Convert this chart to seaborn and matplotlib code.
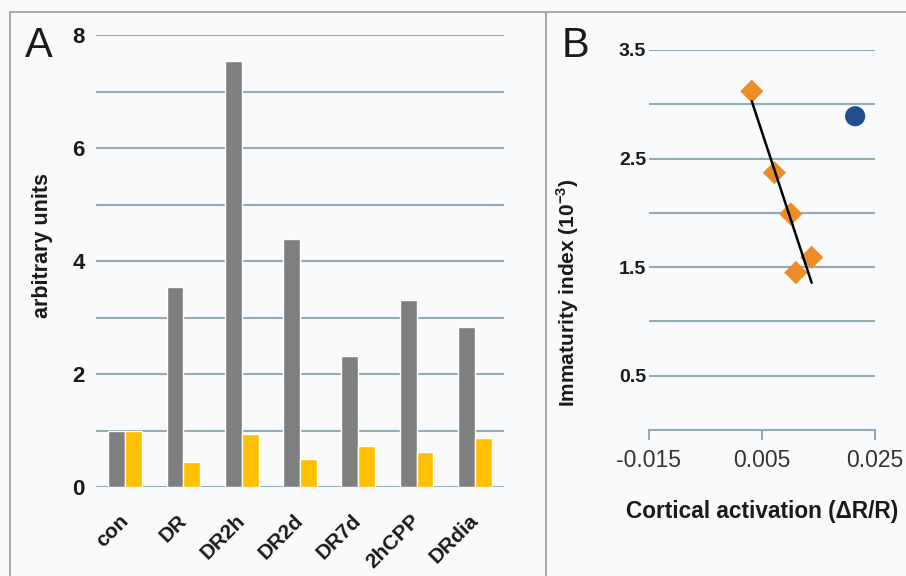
import numpy as np
import pandas as pd
import seaborn as sns
import matplotlib.pyplot as plt
from matplotlib.lines import Line2D

# Panel A data (bar values)
groups = ['con', 'DR', 'DR2h', 'DR2d', 'DR7d', '2hCPP', 'DRdia']
gray_vals = [1.0, 3.54, 7.54, 4.39, 2.32, 3.31, 2.84]
yellow_vals = [1.0, 0.44, 0.94, 0.50, 0.73, 0.62, 0.87]

# Panel B data
act_x = [0.0032, 0.0072, 0.0101, 0.0138, 0.0110]
imm_y = [3.12, 2.37, 1.99, 1.59, 1.45]
out_x = [0.0215]
out_y = [2.89]

sns.set_theme(style='white')
plt.rcParams['font.family'] = ['Liberation Sans', 'DejaVu Sans']

bg = '#f9fafb'
grid_c = '#93aab8'
txt_c = '#1a1a1a'

fig = plt.figure(figsize=(9.06, 5.76), dpi=100, facecolor=bg)

# frame lines around panels
for xs, ys in [([0.011, 0.011], [0.0, 0.979]), ([0.011, 1.0], [0.979, 0.979]),
               ([0.6026, 0.6026], [0.0, 0.979])]:
    fig.add_artist(Line2D(xs, ys, color='#a0a0a0', lw=1.3, transform=fig.transFigure))

# ---- Panel A ----
axA = fig.add_axes([0.106, 0.1545, 0.4503, 0.7847])
axA.set_facecolor(bg)
df = pd.DataFrame({'group': groups * 2,
                   'value': gray_vals + yellow_vals,
                   'series': ['gray'] * len(groups) + ['yellow'] * len(groups)})
sns.barplot(data=df, x='group', y='value', hue='series', palette=['#7f7f7f', '#ffc000'],
            width=0.58, gap=0, saturation=1, legend=False, ax=axA, zorder=3)
axA.set_xlim(-0.5, 6.5)
axA.set_ylim(0, 8)
axA.set_yticks(range(0, 9))
axA.set_yticklabels(['0', '', '2', '', '4', '', '6', '', '8'])
axA.yaxis.grid(True, color=grid_c, lw=1.5, zorder=0)
axA.set_axisbelow(True)
for s in axA.spines.values():
    s.set_visible(False)
axA.tick_params(axis='y', length=0, pad=8, labelsize=16, labelcolor=txt_c)
axA.tick_params(axis='x', length=0, pad=22, labelsize=15, labelcolor=txt_c)
for lab in axA.get_yticklabels():
    lab.set_fontweight('bold')
for lab in axA.get_xticklabels():
    lab.set_fontweight('bold')
    lab.set_rotation(45)
    lab.set_ha('right')
    lab.set_va('center')
    lab.set_rotation_mode('anchor')
axA.set_xlabel('')
axA.set_ylabel('arbitrary units', fontsize=15.5, fontweight='bold', color=txt_c)
axA.yaxis.set_label_coords(-0.105, 0.535)
fig.text(0.028, 0.955, 'A', fontsize=30, color=txt_c, va='top', ha='left')

# ---- Panel B ----
axB = fig.add_axes([0.7163, 0.2535, 0.2494, 0.6597])
axB.set_facecolor(bg)
sns.scatterplot(x=act_x, y=imm_y, marker='D', s=140, color='#f08c28', edgecolor='none',
                ax=axB, zorder=3)
sns.scatterplot(x=out_x, y=out_y, marker='o', s=210, color='#1f4e8c', edgecolor='none',
                ax=axB, zorder=3)
sns.regplot(x=act_x, y=imm_y, scatter=False, ci=None, truncate=True,
            line_kws={'color': 'black', 'lw': 1.8, 'zorder': 4}, ax=axB)
axB.set_xlim(-0.015, 0.025)
axB.set_ylim(0, 3.5)
axB.set_xticks([-0.015, 0.005, 0.025])
axB.set_xticklabels(['-0.015', '0.005', '0.025'])
axB.set_yticks(np.arange(0.5, 3.51, 0.5))
axB.set_yticklabels(['0.5', '', '1.5', '', '2.5', '', '3.5'])
axB.yaxis.grid(True, color=grid_c, lw=1.5, zorder=0)
axB.set_axisbelow(True)
for k in ['top', 'right', 'left']:
    axB.spines[k].set_visible(False)
axB.spines['bottom'].set_color(grid_c)
axB.spines['bottom'].set_linewidth(1.5)
axB.tick_params(axis='x', length=7, width=1.5, color=grid_c, bottom=True, pad=7,
                labelsize=16.5, labelcolor='#333333')
axB.tick_params(axis='y', length=0, pad=2, labelsize=14, labelcolor=txt_c)
for lab in axB.get_yticklabels():
    lab.set_fontweight('bold')
axB.set_xlabel('Cortical activation (ΔR/R)', fontsize=16.3, fontweight='bold', color=txt_c,
               labelpad=20)
axB.set_ylabel('Immaturity index (10$^{\\mathregular{-3}}$)', fontsize=15, fontweight='bold',
               color=txt_c)
axB.yaxis.set_label_coords(-0.30, 0.36)
fig.text(0.620, 0.955, 'B', fontsize=30, color=txt_c, va='top', ha='left')

fig.savefig('out.png', dpi=100, facecolor=bg)
